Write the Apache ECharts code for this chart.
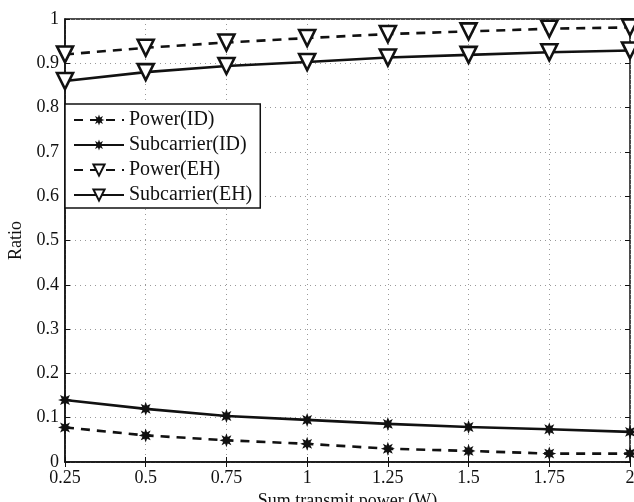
<!DOCTYPE html>
<html>
<head>
<meta charset="utf-8">
<script src="https://cdn.jsdelivr.net/npm/echarts@6/dist/echarts.min.js"></script>
<style>
html,body{margin:0;padding:0;background:#fff;}
#main{width:634px;height:502px;}
</style>
</head>
<body>
<div id="main"></div>
<script>
// data
var xPower = [0.25, 0.5, 0.75, 1, 1.25, 1.5, 1.75, 2];
var powerID = [0.078, 0.060, 0.049, 0.041, 0.030, 0.025, 0.019, 0.019];
var subcarrierID = [0.140, 0.120, 0.104, 0.095, 0.086, 0.079, 0.074, 0.068];
var powerEH = [0.920, 0.935, 0.947, 0.957, 0.966, 0.972, 0.978, 0.981];
var subcarrierEH = [0.860, 0.880, 0.894, 0.903, 0.913, 0.919, 0.925, 0.929];
var seriesNames = ['Power(ID)', 'Subcarrier(ID)', 'Power(EH)', 'Subcarrier(EH)'];

// 8 pointed asterisk shape
function starPath(){
	var pts = [];
	for(var i=0; i<16; i++){
		var a = -Math.PI/2 + i*Math.PI/8;
		var r = (i%2==0) ? 10 : 5;
		pts.push((10 + r*Math.cos(a)).toFixed(2) + ',' + (10 + r*Math.sin(a)).toFixed(2));
	}
	return 'path://M' + pts.join(' L') + ' Z';
}
var star = starPath();
var tri = 'path://M0,0 L12,0 L6,10 Z';

function pairs(ys){
	var out = [];
	for(var i=0; i<xPower.length; i++){
		out.push([xPower[i], ys[i]]);
	}
	return out;
}

var font = 'Liberation Serif';
var chart = echarts.init(document.getElementById('main'));

function mk(name, ys, dashed, sym, size, fill){
	return {
		name: name,
		type: 'line',
		data: pairs(ys),
		symbol: sym,
		symbolSize: size,
		showAllSymbol: true,
		lineStyle: {color:'#111', width:2.6, type: dashed ? [9,7] : 'solid'},
		itemStyle: {color: fill, borderColor:'#111', borderWidth: fill=='#fff' ? 2.6 : 0},
		emphasis: {disabled:true},
		animation: false,
		clip: false,
		z: 3
	};
}

chart.setOption({
	backgroundColor: '#fff',
	animation: false,
	grid: {left:65, right:4, top:19, bottom:40, outerBoundsMode:'none', containLabel:false,
		show:true, borderColor:'#111', borderWidth:1.5},
	legend: {
		orient: 'vertical',
		left: 65,
		top: 104,
		data: seriesNames,
		itemWidth: 50,
		itemHeight: 14,
		itemGap: 5,
		padding: [6, 8, 3, 8],
		backgroundColor: '#fff',
		borderColor: '#111',
		borderWidth: 1.5,
		borderRadius: 0,
		textStyle: {fontFamily: font, fontSize: 20, color:'#111'}
	},
	xAxis: [{
		type: 'value',
		min: 0.25, max: 2, interval: 0.25,
		name: 'Sum transmit power (W)',
		nameLocation: 'middle',
		nameGap: 30,
		nameTextStyle: {fontFamily: font, fontSize: 18, color:'#111'},
		axisLine: {lineStyle:{color:'#111', width:1.5}},
		axisTick: {inside:true, length:5, lineStyle:{color:'#111'}},
		axisLabel: {fontFamily: font, fontSize: 18, color:'#111', margin:7,
			formatter: function(v){ return String(v); }},
		splitLine: {show:true, lineStyle:{color:'#999', type:[1,4], width:1}}
	}, {
		type: 'value', position: 'top',
		min: 0.25, max: 2, interval: 0.25,
		axisLine: {show:false},
		axisTick: {inside:true, length:5, lineStyle:{color:'#111'}},
		axisLabel: {show:false},
		splitLine: {show:false}
	}],
	yAxis: [{
		type: 'value',
		min: 0, max: 1, interval: 0.1,
		name: 'Ratio',
		nameLocation: 'middle',
		nameGap: 38,
		nameTextStyle: {fontFamily: font, fontSize: 18, color:'#111'},
		axisLine: {show:true, lineStyle:{color:'#111', width:1.5}},
		axisTick: {show:true, inside:true, length:5, lineStyle:{color:'#111'}},
		axisLabel: {fontFamily: font, fontSize: 18, color:'#111', margin:6,
			formatter: function(v){ return String(Math.round(v*10)/10); }},
		splitLine: {show:true, lineStyle:{color:'#999', type:[1,4], width:1}}
	}, {
		type: 'value', position: 'right',
		min: 0, max: 1, interval: 0.1,
		axisLine: {show:false},
		axisTick: {show:true, inside:true, length:5, lineStyle:{color:'#111'}},
		axisLabel: {show:false},
		splitLine: {show:false}
	}],
	series: [
		mk(seriesNames[0], powerID, true, star, 14, '#111'),
		mk(seriesNames[1], subcarrierID, false, star, 14, '#111'),
		mk(seriesNames[2], powerEH, true, tri, 16, '#fff'),
		mk(seriesNames[3], subcarrierEH, false, tri, 16, '#fff')
	]
});
</script>
</body>
</html>
